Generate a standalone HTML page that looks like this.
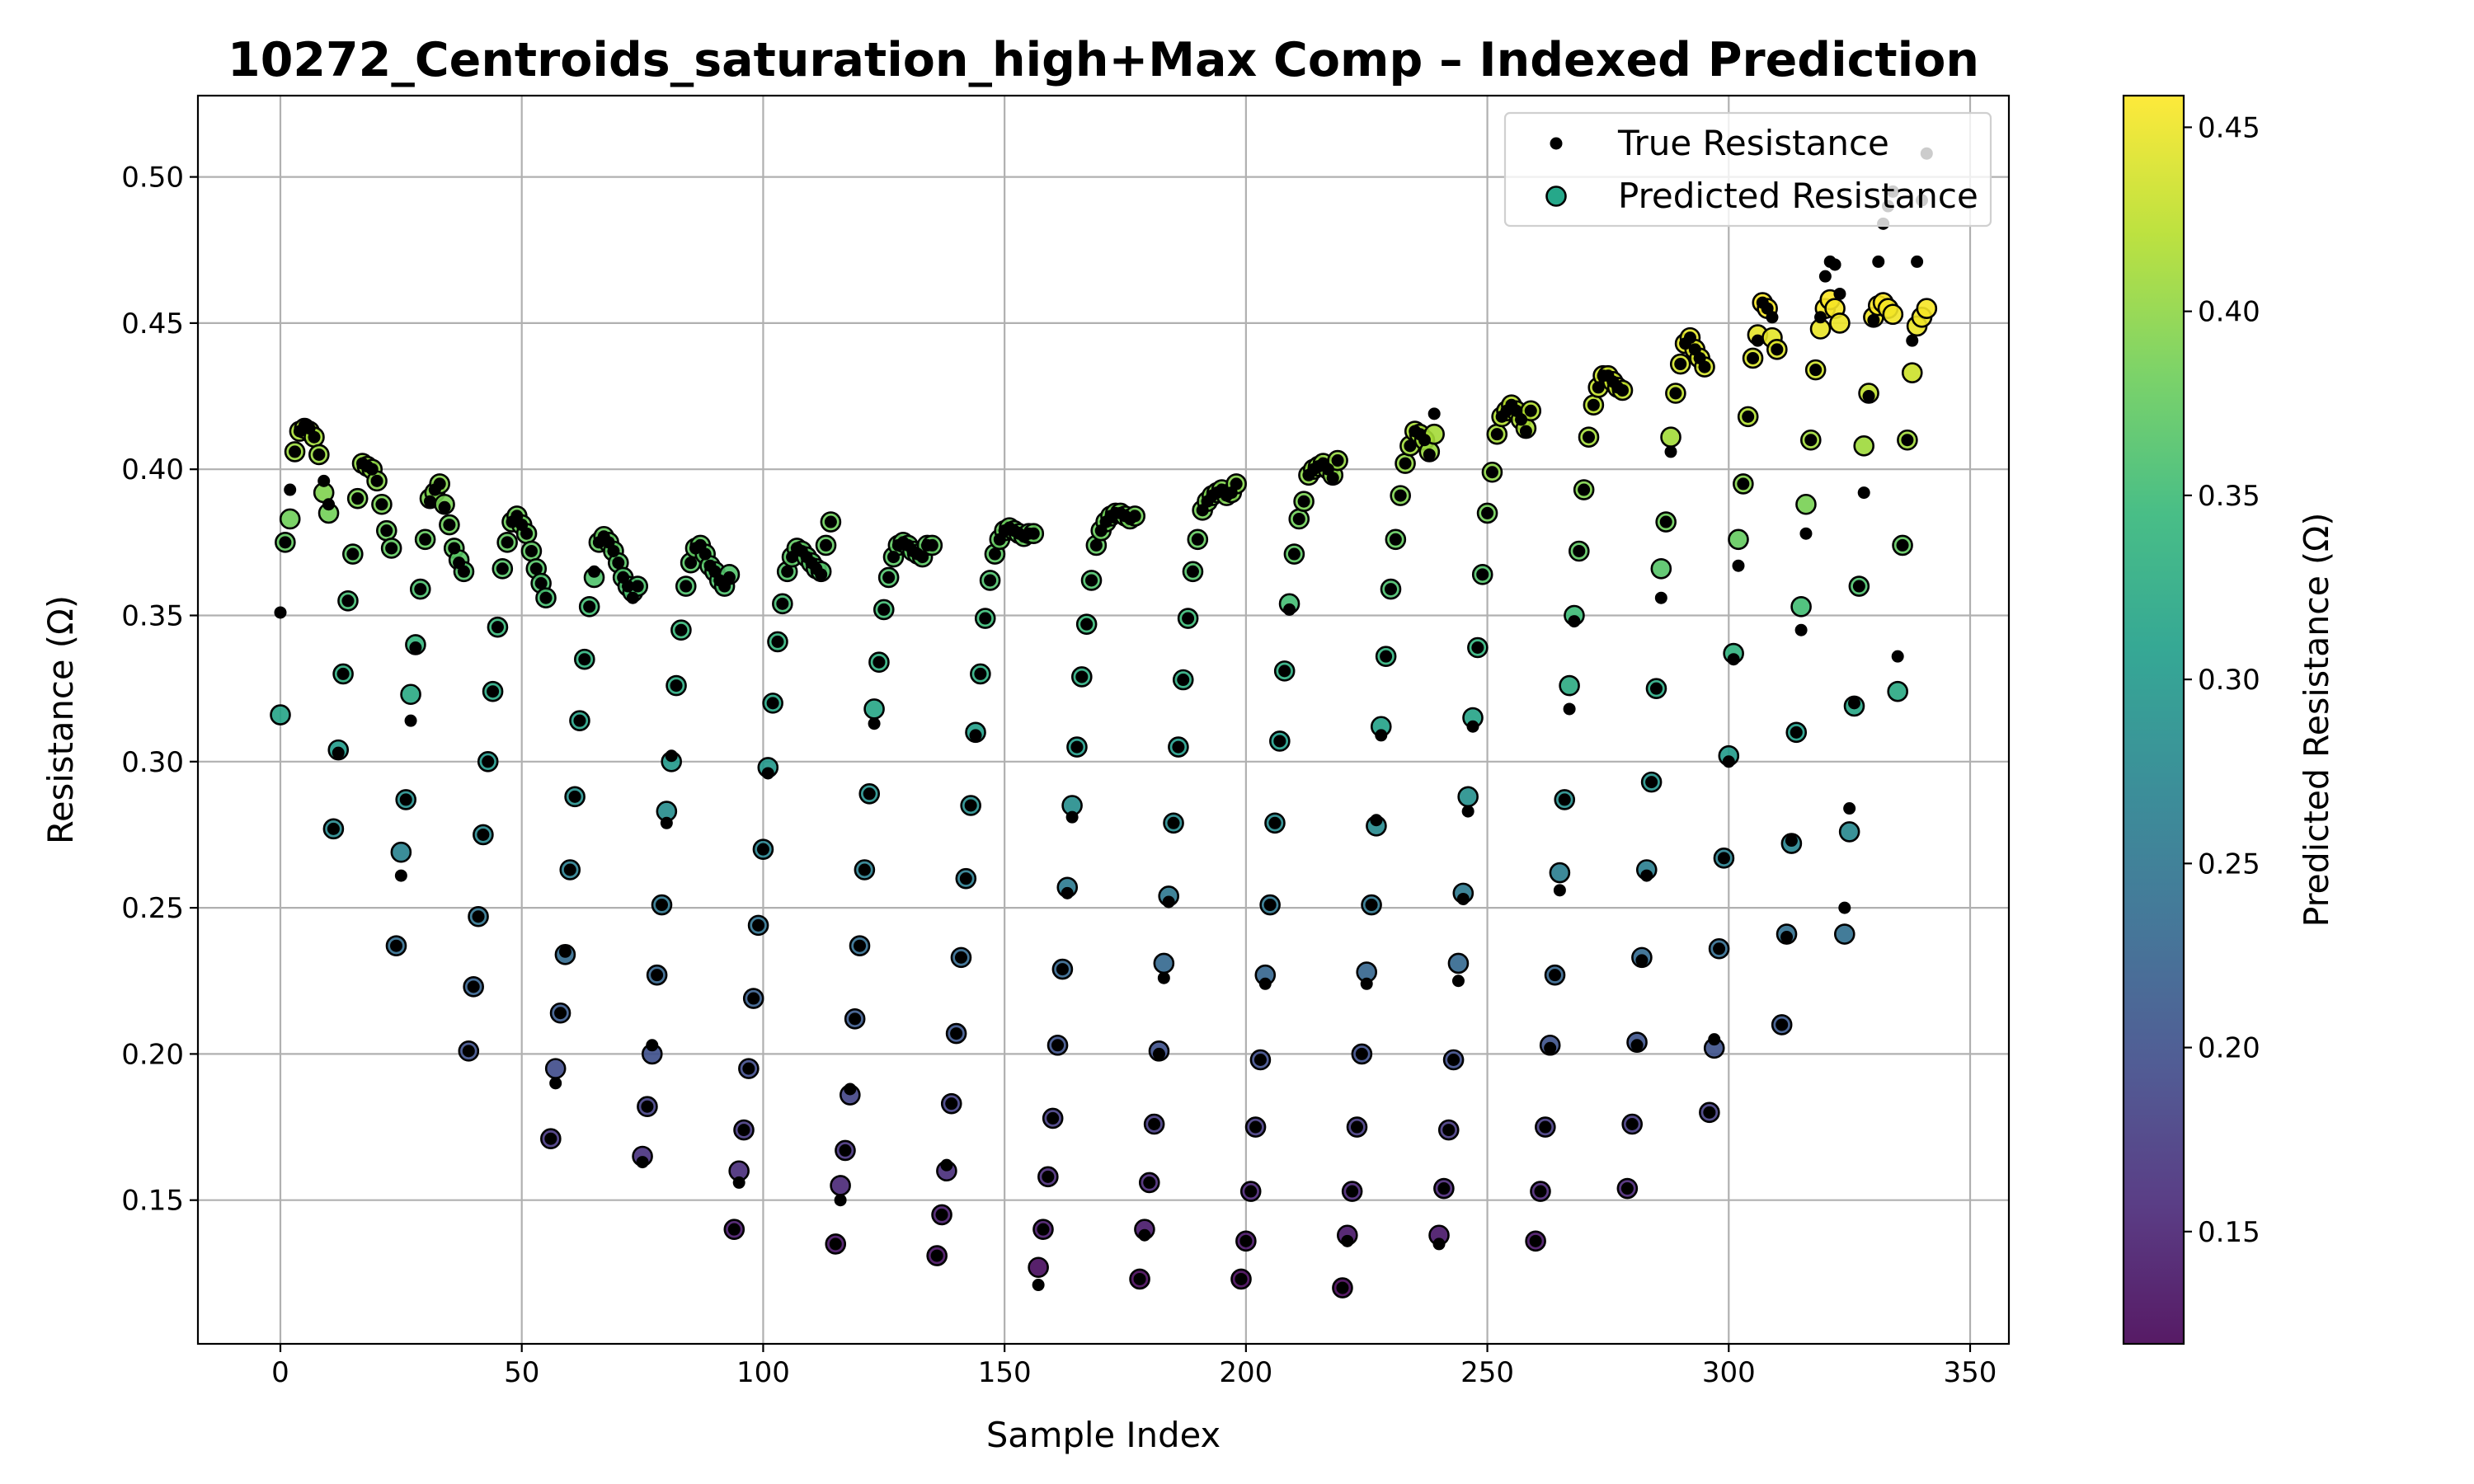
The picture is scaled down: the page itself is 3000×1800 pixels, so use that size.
<!DOCTYPE html>
<html><head><meta charset="utf-8">
<style>
html,body{margin:0;padding:0;background:#fff;}
svg{display:block;font-family:"DejaVu Sans","Liberation Sans",sans-serif;}
</style></head>
<body>
<svg id="chart" width="3000" height="1800" viewBox="0 0 3000 1800" xmlns="http://www.w3.org/2000/svg">
<rect width="3000" height="1800" fill="#fff"/>
<g id="grid"></g>
<g id="points"></g>
<g id="axes"></g>
<g id="cbar"></g>
<g id="legend"></g>
</svg>
<script>
const xTicks=[0,50,100,150,200,250,300,350];
const yTicks=[0.15,0.20,0.25,0.30,0.35,0.40,0.45,0.50];
const cbTicks=[0.15,0.20,0.25,0.30,0.35,0.40,0.45];
const trueVals=[
0.351,0.375,0.393,0.406,0.413,0.415,0.414,0.411,0.405,0.396,0.388,
0.277,0.303,0.330,0.355,0.371,0.390,0.402,0.401,0.400,0.396,0.388,0.379,0.373,
0.237,0.261,0.287,0.314,0.339,0.359,0.376,0.389,0.393,0.395,0.387,0.381,0.373,0.368,0.365,
0.201,0.223,0.247,0.275,0.300,0.324,0.346,0.366,0.375,0.382,0.384,0.381,0.378,0.372,0.366,0.361,0.356,
0.171,0.190,0.214,0.235,0.263,0.288,0.314,0.335,0.353,0.365,0.375,0.377,0.375,0.372,0.368,0.363,0.360,0.356,0.360,
0.163,0.182,0.203,0.227,0.251,0.279,0.302,0.326,0.345,0.360,0.368,0.373,0.374,0.371,0.367,0.365,0.362,0.360,0.363,
0.140,0.156,0.174,0.195,0.219,0.244,0.270,0.296,0.320,0.341,0.354,0.365,0.370,0.373,0.372,0.370,0.368,0.366,0.364,0.374,0.382,
0.135,0.150,0.167,0.188,0.212,0.237,0.263,0.289,0.313,0.334,0.352,0.363,0.370,0.374,0.375,0.374,0.372,0.371,0.370,0.374,0.374,
0.131,0.145,0.162,0.183,0.207,0.233,0.260,0.285,0.309,0.330,0.349,0.362,0.371,0.376,0.379,0.380,0.379,0.378,0.377,0.378,0.378,
0.121,0.140,0.158,0.178,0.203,0.229,0.255,0.281,0.305,0.329,0.347,0.362,0.374,0.379,0.382,0.384,0.385,0.385,0.384,0.383,0.384,
0.123,0.138,0.156,0.176,0.200,0.226,0.252,0.279,0.305,0.328,0.349,0.365,0.376,0.386,0.389,0.391,0.392,0.393,0.391,0.392,0.395,
0.123,0.136,0.153,0.175,0.198,0.224,0.251,0.279,0.307,0.331,0.352,0.371,0.383,0.389,0.398,0.400,0.401,0.402,0.400,0.397,0.403,
0.120,0.136,0.153,0.175,0.200,0.224,0.251,0.280,0.309,0.336,0.359,0.376,0.391,0.402,0.408,0.413,0.412,0.410,0.405,0.419,
0.135,0.154,0.174,0.198,0.225,0.253,0.283,0.312,0.339,0.364,0.385,0.399,0.412,0.418,0.420,0.422,0.420,0.417,0.413,0.420,
0.136,0.153,0.175,0.202,0.227,0.256,0.287,0.318,0.348,0.372,0.393,0.411,0.422,0.428,0.432,0.432,0.430,0.428,0.427,
0.154,0.176,0.203,0.232,0.261,0.293,0.325,0.356,0.382,0.406,0.426,0.436,0.443,0.445,0.441,0.438,0.435,
0.180,0.205,0.236,0.267,0.300,0.335,0.367,0.395,0.418,0.438,0.444,0.457,0.455,0.452,0.441,
0.210,0.240,0.273,0.310,0.345,0.378,0.410,0.434,0.452,0.466,0.471,0.470,0.460,
0.250,0.284,0.320,0.360,0.392,0.425,0.451,0.471,0.484,0.490,0.495,
0.336,0.374,0.410,0.444,0.471,0.492,0.508];
const predVals=[
0.316,0.375,0.383,0.406,0.413,0.414,0.413,0.411,0.405,0.392,0.385,
0.277,0.304,0.330,0.355,0.371,0.390,0.402,0.401,0.400,0.396,0.388,0.379,0.373,
0.237,0.269,0.287,0.323,0.340,0.359,0.376,0.390,0.392,0.395,0.388,0.381,0.373,0.369,0.365,
0.201,0.223,0.247,0.275,0.300,0.324,0.346,0.366,0.375,0.382,0.384,0.381,0.378,0.372,0.366,0.361,0.356,
0.171,0.195,0.214,0.234,0.263,0.288,0.314,0.335,0.353,0.363,0.375,0.377,0.375,0.372,0.368,0.363,0.360,0.358,0.360,
0.165,0.182,0.200,0.227,0.251,0.283,0.300,0.326,0.345,0.360,0.368,0.373,0.374,0.371,0.367,0.365,0.362,0.360,0.364,
0.140,0.160,0.174,0.195,0.219,0.244,0.270,0.298,0.320,0.341,0.354,0.365,0.370,0.373,0.372,0.370,0.368,0.366,0.365,0.374,0.382,
0.135,0.155,0.167,0.186,0.212,0.237,0.263,0.289,0.318,0.334,0.352,0.363,0.370,0.374,0.375,0.374,0.372,0.371,0.370,0.374,0.374,
0.131,0.145,0.160,0.183,0.207,0.233,0.260,0.285,0.310,0.330,0.349,0.362,0.371,0.376,0.379,0.380,0.379,0.378,0.377,0.378,0.378,
0.127,0.140,0.158,0.178,0.203,0.229,0.257,0.285,0.305,0.329,0.347,0.362,0.374,0.379,0.382,0.384,0.385,0.385,0.384,0.383,0.384,
0.123,0.140,0.156,0.176,0.201,0.231,0.254,0.279,0.305,0.328,0.349,0.365,0.376,0.386,0.389,0.391,0.392,0.393,0.391,0.392,0.395,
0.123,0.136,0.153,0.175,0.198,0.227,0.251,0.279,0.307,0.331,0.354,0.371,0.383,0.389,0.398,0.400,0.401,0.402,0.400,0.398,0.403,
0.120,0.138,0.153,0.175,0.200,0.228,0.251,0.278,0.312,0.336,0.359,0.376,0.391,0.402,0.408,0.413,0.412,0.410,0.406,0.412,
0.138,0.154,0.174,0.198,0.231,0.255,0.288,0.315,0.339,0.364,0.385,0.399,0.412,0.418,0.420,0.422,0.420,0.417,0.414,0.420,
0.136,0.153,0.175,0.203,0.227,0.262,0.287,0.326,0.350,0.372,0.393,0.411,0.422,0.428,0.432,0.432,0.430,0.428,0.427,
0.154,0.176,0.204,0.233,0.263,0.293,0.325,0.366,0.382,0.411,0.426,0.436,0.443,0.445,0.441,0.438,0.435,
0.180,0.202,0.236,0.267,0.302,0.337,0.376,0.395,0.418,0.438,0.446,0.457,0.455,0.445,0.441,
0.210,0.241,0.272,0.310,0.353,0.388,0.410,0.434,0.448,0.455,0.458,0.455,0.450,
0.241,0.276,0.319,0.360,0.408,0.426,0.452,0.456,0.457,0.455,0.453,
0.324,0.374,0.410,0.433,0.449,0.452,0.455];

const NS='http://www.w3.org/2000/svg';
const AX={l:240,r:2436,t:116,b:1630};
const xs=v=>340+v*(2389-340)/350;
const ys=v=>214.6+(0.50-v)*3546;
const CB={l:2575,r:2648,t:116,b:1630,min:0.1195,max:0.4586};
const cbY=v=>CB.b-(v-CB.min)/(CB.max-CB.min)*(CB.b-CB.t);
const VIR=[[68,1,84],[72,40,120],[62,74,137],[49,104,142],[38,130,142],[31,158,137],[53,183,121],[110,206,88],[181,222,43],[253,231,37]];
function viridis(t){t=Math.max(0,Math.min(1,t));const p=t*(VIR.length-1);const i=Math.min(Math.floor(p),VIR.length-2);const f=p-i;
 const c=VIR[i].map((a,k)=>Math.round(a+(VIR[i+1][k]-a)*f));return `rgb(${c[0]},${c[1]},${c[2]})`;}
function mk(tag,attrs,parent,text){const e=document.createElementNS(NS,tag);for(const k in attrs)e.setAttribute(k,attrs[k]);if(text!==undefined)e.textContent=text;parent.appendChild(e);return e;}

const grid=document.getElementById('grid');
xTicks.forEach(t=>{const l=mk('line',{x1:xs(t),x2:xs(t),y1:AX.t,y2:AX.b,stroke:'#b0b0b0','stroke-width':2.2},grid);

});
yTicks.forEach(t=>{const l=mk('line',{x1:AX.l,x2:AX.r,y1:ys(t),y2:ys(t),stroke:'#b0b0b0','stroke-width':2.2},grid);

});

const pts=document.getElementById('points');
predVals.forEach((v,i)=>{const c=mk('circle',{cx:xs(i),cy:ys(v),r:11.5,fill:viridis((v-CB.min)/(CB.max-CB.min)),'fill-opacity':0.9,stroke:'#000','stroke-width':2.6},pts);

});
trueVals.forEach((v,i)=>{const c=mk('circle',{cx:xs(i),cy:ys(v),r:7.5,fill:'#000'},pts);

});

const ax=document.getElementById('axes');
const frame=mk('rect',{x:AX.l,y:AX.t,width:AX.r-AX.l,height:AX.b-AX.t,fill:'none',stroke:'#000','stroke-width':2.2},ax);


xTicks.forEach(t=>{mk('line',{x1:xs(t),x2:xs(t),y1:AX.b,y2:AX.b+10,stroke:'#000','stroke-width':2.2},ax);
const tx=mk('text',{x:xs(t),y:AX.b+46,'font-size':34,'text-anchor':'middle'},ax,String(t));

});
yTicks.forEach(t=>{mk('line',{x1:AX.l-10,x2:AX.l,y1:ys(t),y2:ys(t),stroke:'#000','stroke-width':2.2},ax);
const tx=mk('text',{x:AX.l-17,y:ys(t)+12,'font-size':34,'text-anchor':'end'},ax,t.toFixed(2));

});
let e=mk('text',{x:(AX.l+AX.r)/2,y:1755,'font-size':41.7,'text-anchor':'middle'},ax,'Sample Index');


e=mk('text',{x:88,y:(AX.t+AX.b)/2,'font-size':41.7,'text-anchor':'middle',transform:`rotate(-90 88 ${(AX.t+AX.b)/2})`},ax,'Resistance (Ω)');


e=mk('text',{x:(AX.l+AX.r)/2,y:92,'font-size':57,'font-weight':'bold','text-anchor':'middle'},ax,'10272_Centroids_saturation_high+Max Comp – Indexed Prediction');



const cb=document.getElementById('cbar');
const defs=mk('defs',{},cb);
const grad=mk('linearGradient',{id:'vg',x1:0,y1:1,x2:0,y2:0},defs);
VIR.forEach((c,i)=>mk('stop',{offset:i/(VIR.length-1),'stop-color':`rgb(${c[0]},${c[1]},${c[2]})`,'stop-opacity':0.9},grad));
e=mk('rect',{x:CB.l,y:CB.t,width:CB.r-CB.l,height:CB.b-CB.t,fill:'url(#vg)',stroke:'#000','stroke-width':2.2},cb);


cbTicks.forEach(t=>{mk('line',{x1:CB.r,x2:CB.r+10,y1:cbY(t),y2:cbY(t),stroke:'#000','stroke-width':2.2},cb);
const tx=mk('text',{x:CB.r+17,y:cbY(t)+12,'font-size':34},cb,t.toFixed(2));

});
e=mk('text',{x:2823,y:(CB.t+CB.b)/2,'font-size':41,'text-anchor':'middle',transform:`rotate(-90 2823 ${(CB.t+CB.b)/2})`},cb,'Predicted Resistance (Ω)');



const lg=document.getElementById('legend');
e=mk('rect',{x:1825,y:137,width:589,height:137,rx:6,fill:'#fff','fill-opacity':0.8,stroke:'#d0d0d0','stroke-width':2.2},lg);


mk('circle',{cx:1887,cy:174,r:7.5,fill:'#000'},lg);
e=mk('text',{x:1962,y:188,'font-size':42},lg,'True Resistance');


mk('circle',{cx:1887,cy:238,r:11.5,fill:'rgb(38,168,138)',stroke:'#000','stroke-width':2.6},lg);
e=mk('text',{x:1962,y:252,'font-size':42},lg,'Predicted Resistance');


</script>
</body></html>
